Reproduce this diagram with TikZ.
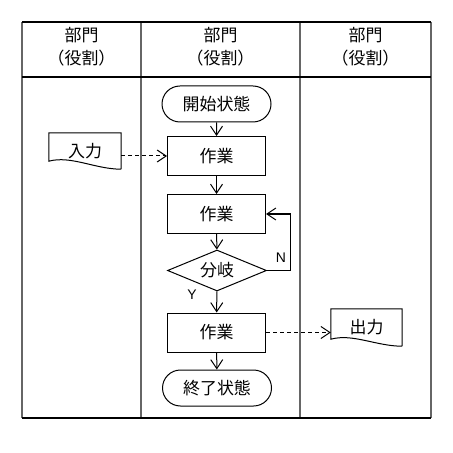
\documentclass[tikz,border=0pt]{standalone}
\usepackage{fontspec}
\setmainfont{Noto Sans CJK JP}
\newfontfamily\latfont{Liberation Sans}
\usetikzlibrary{arrows.meta,shapes.geometric,shapes.misc}
\begin{document}
\begin{tikzpicture}[x=1bp,y=-1bp,
  every node/.style={font=\fontsize{17}{22}\selectfont, inner sep=0pt},
  proc/.style={draw, rectangle, minimum width=98bp, minimum height=39bp, line width=1bp},
  term/.style={draw, rounded rectangle, minimum width=109bp, minimum height=36bp, line width=1bp},
  dec/.style={draw, diamond, aspect=2.4, minimum width=99bp, minimum height=41bp, line width=1bp},
  docbox/.style={rectangle, minimum width=72bp, minimum height=36bp},
  docline/.style={draw, line width=1bp},
  flow/.style={line width=1bp, -{Straight Barb[length=9bp,width=12bp,line width=1bp]}},
  dflow/.style={flow, dash pattern=on 4bp off 3bp},
  hline/.style={line width=1.2bp, black},
  vline/.style={line width=2bp, black!60},
  hdr/.style={align=center, font=\fontsize{17}{23}\selectfont},
  lbl/.style={font=\latfont\fontsize{14}{14}\selectfont}
]
\useasboundingbox (0,0) rectangle (453,453);
% frame
\draw[vline] (22,22) -- (22,418);
\draw[vline] (141,22) -- (141,418);
\draw[vline] (300,22) -- (300,418);
\draw[vline] (431,22) -- (431,418);
\draw[hline] (22,22) -- (431,22);
\draw[hline] (22,77) -- (431,77);
\draw[hline] (22,418) -- (431,418);
% headers
\node[hdr] (h1) at (81.5,47) {部門\\（役割）};
\node[hdr] (h2) at (220.5,47) {部門\\（役割）};
\node[hdr] (h3) at (365.5,47) {部門\\（役割）};
% flow nodes
\node[term] (start) at (216.5,104) {開始状態};
\node[proc] (p1) at (216.5,156) {作業};
\node[proc] (p2) at (216.5,214) {作業};
\node[dec] (d) at (217,270.5) {分岐};
\node[proc] (p3) at (216.5,332.5) {作業};
\node[term] (end) at (217,388) {終了状態};
% documents
\node[docbox] (in) at (85,151) {入力};
\draw[docline] (in.south east) -- (in.north east) -- (in.north west) -- ([yshift=8bp]in.south west)
  .. controls +(22bp,6bp) and +(-26bp,0bp) .. (in.south east);
\node[docbox, minimum width=71bp, minimum height=37bp] (out) at (366.5,327.5) {出力};
\draw[docline] (out.south east) -- (out.north east) -- (out.north west) -- ([yshift=7bp]out.south west)
  .. controls +(22bp,6bp) and +(-26bp,0bp) .. (out.south east);
% connectors
\draw[flow] (start) -- (p1);
\draw[flow] (p1) -- (p2);
\draw[flow] (p2) -- (d);
\draw[flow] (d) -- (p3);
\draw[flow] (p3) -- (end);
\draw[flow] (d.east) -- ++(23bp,0) |- (p2.east);
\draw[dflow] (in.east |- p1.east) -- (p1.west);
\draw[dflow] (p3.east) -- (out.west |- p3.east);
% labels
\node[lbl] (ln) at (281,258) {N};
\node[lbl] (ly) at (192,295) {Y};
\end{tikzpicture}
\end{document}
